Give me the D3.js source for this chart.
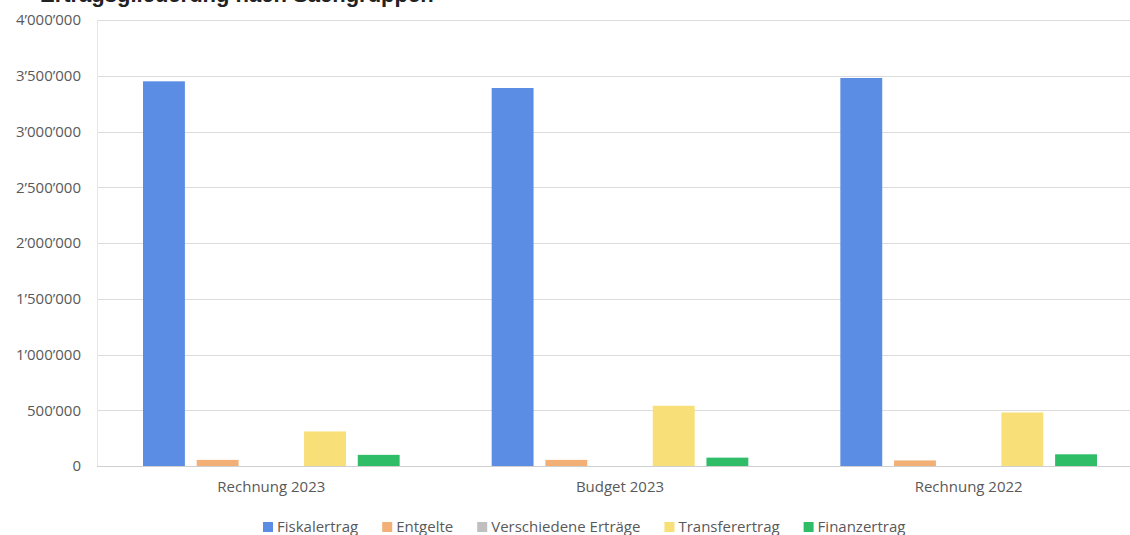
<!DOCTYPE html>
<html>
<head>
<meta charset="utf-8">
<script src="https://cdn.jsdelivr.net/npm/d3@7"></script>
<style>
  html, body { margin: 0; padding: 0; background: #ffffff; }
  svg { display: block; }
</style>
</head>
<body>
<svg id="chart" width="1130" height="535"></svg>
<script>
// ---- Data ----
const categories = ["Rechnung 2023", "Budget 2023", "Rechnung 2022"];
const seriesNames = ["Fiskalertrag", "Entgelte", "Verschiedene Erträge", "Transferertrag", "Finanzertrag"];
const fiskalertrag = [3450000, 3390000, 3480000];
const entgelte = [55000, 55000, 50000];
const verschiedeneErtraege = [0, 0, 0];
const transferertrag = [310000, 540000, 480000];
const finanzertrag = [100000, 75000, 105000];
const yTicks = [0, 500000, 1000000, 1500000, 2000000, 2500000, 3000000, 3500000, 4000000];
const seriesColors = ["#5a8de3", "#f2b077", "#bfbfbf", "#f9df78", "#2fbd68"];
const titleText = "Ertragsgliederung nach Sachgruppen";

const seriesValues = [fiskalertrag, entgelte, verschiedeneErtraege, transferertrag, finanzertrag];
const table = categories.map((c, i) => ({
  category: c,
  values: seriesNames.map((s, j) => ({ series: s, value: seriesValues[j][i], color: seriesColors[j] }))
}));

// ---- Layout ----
const svg = d3.select("#chart");
const font = "'Open Sans', 'Noto Sans', sans-serif";
const plot = { left: 97, right: 1143, top: 20, bottom: 466 };

const y = d3.scaleLinear().domain([0, 4000000]).range([plot.bottom, plot.top]);
const x0 = d3.scaleBand().domain(categories).range([plot.left, plot.right]).padding(0);
const x1 = d3.scaleBand().domain(seriesNames).range([0, x0.bandwidth()])
  .paddingInner(0.22).paddingOuter(0.857);

// partially visible title at the very top (cut off in the reference)
svg.append("text")
  .attr("x", 40).attr("y", 2)
  .attr("font-family", "'Liberation Sans', sans-serif")
  .attr("font-size", 22).attr("font-weight", "bold")
  .attr("fill", "#222")
  .text(titleText);

// gridlines
const fmt = v => d3.format(",")(v).replace(/,/g, "\u2019");
svg.append("g")
  .selectAll("line").data(yTicks).join("line")
  .attr("x1", plot.left).attr("x2", 1130)
  .attr("y1", d => Math.round(y(d)) + 0.5).attr("y2", d => Math.round(y(d)) + 0.5)
  .attr("stroke", d => d === 0 ? "#cfcfcf" : "#dcdcdc")
  .attr("stroke-width", 1);

// faint left vertical line
svg.append("line")
  .attr("x1", plot.left + 0.5).attr("x2", plot.left + 0.5)
  .attr("y1", plot.top).attr("y2", plot.bottom)
  .attr("stroke", "#e6e6e6");

// y axis
const yAxis = d3.axisLeft(y).tickValues(yTicks).tickFormat(fmt).tickSize(0).tickPadding(0);
const yg = svg.append("g").attr("transform", `translate(${81},0)`).call(yAxis);
yg.select(".domain").remove();
yg.selectAll("text")
  .attr("font-family", font).attr("font-size", 15).attr("fill", "#595959");

// bars
const groups = svg.append("g").selectAll("g").data(table).join("g")
  .attr("transform", d => `translate(${x0(d.category)},0)`);
groups.selectAll("rect").data(d => d.values).join("rect")
  .attr("x", d => x1(d.series))
  .attr("width", x1.bandwidth())
  .attr("y", d => y(d.value))
  .attr("height", d => y(0) - y(d.value))
  .attr("fill", d => d.color);

// x axis
const xAxis = d3.axisBottom(x0).tickSize(0).tickPadding(0);
const xg = svg.append("g").attr("transform", `translate(0,${plot.bottom + 21})`).call(xAxis);
xg.select(".domain").remove();
xg.selectAll("text")
  .attr("font-family", font).attr("font-size", 15).attr("fill", "#595959")
  .attr("dy", "0.35em");

// legend
const legend = svg.append("g");
const items = legend.selectAll("g").data(seriesNames).join("g");
items.append("rect").attr("width", 10).attr("height", 10)
  .attr("y", -5)
  .attr("fill", (d, i) => seriesColors[i]);
items.append("text").attr("x", 14).attr("y", 0).attr("dy", "0.35em")
  .attr("font-family", font).attr("font-size", 15).attr("fill", "#595959")
  .text(d => d);
const gap = 24;
let widths = [];
items.each(function() { widths.push(this.getBBox().width); });
let cx = 263;
items.attr("transform", (d, i) => {
  const t = `translate(${cx},527)`;
  cx += widths[i] + gap;
  return t;
});
</script>
</body>
</html>
